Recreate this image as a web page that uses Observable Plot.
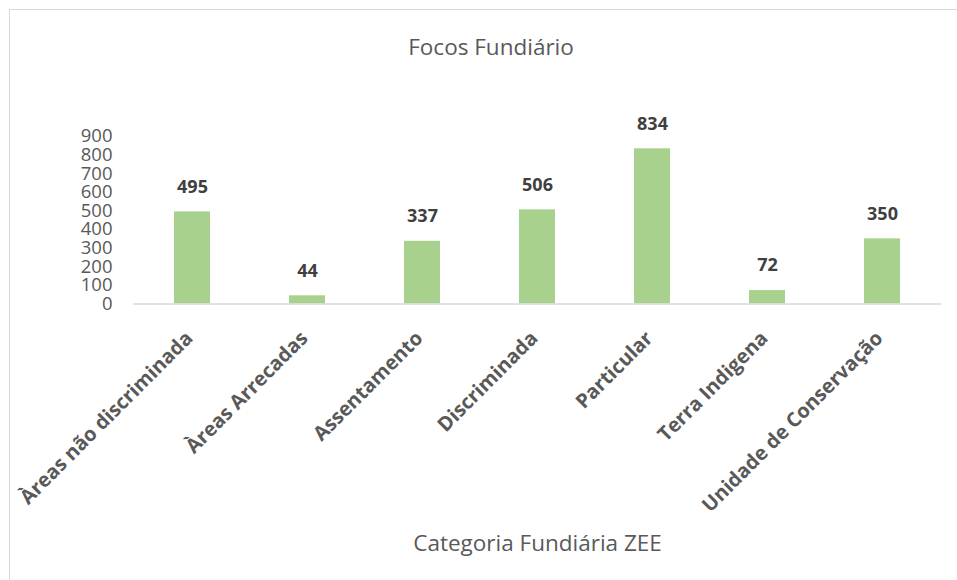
<!DOCTYPE html>
<html>
<head>
<meta charset="utf-8">
<script src="https://cdn.jsdelivr.net/npm/d3@7"></script>
<script src="https://cdn.jsdelivr.net/npm/@observablehq/plot@0.6"></script>
<style>
  html, body { margin: 0; padding: 0; background: #fff; }
  #wrap { position: relative; width: 957px; height: 580px; overflow: hidden; font-family: "Open Sans", sans-serif; }
  #border { position: absolute; left: 9px; top: 9px; width: 980px; height: 620px; border: 1.5px solid #d9d9d9; box-sizing: border-box; }
  #chart { position: absolute; left: 0; top: 0; }
</style>
</head>
<body>
<div id="wrap"><div id="border"></div><div id="chart"></div></div>
<script>
const categories = ["Àreas não discriminada", "Àreas Arrecadas", "Assentamento", "Discriminada", "Particular", "Terra Indigena", "Unidade de Conservação"];
const values = [495, 44, 337, 506, 834, 72, 350];
const yTicks = [0, 100, 200, 300, 400, 500, 600, 700, 800, 900];
const title = "Focos Fundiário";
const xTitle = "Categoria Fundiária ZEE";

const data = categories.map((c, i) => ({cat: c, value: values[i]}));

const chart = Plot.plot({
  width: 957,
  height: 580,
  marginLeft: 133,
  marginRight: 16,
  marginTop: 136,
  marginBottom: 276.5,
  style: {fontFamily: "Open Sans, sans-serif", background: "transparent", overflow: "visible"},
  x: {domain: categories, paddingInner: 0.69, paddingOuter: 0.345, axis: null},
  y: {domain: [0, 900], axis: null},
  marks: [
    Plot.barY(data, {x: "cat", y: "value", fill: "#a9d18e"}),
    Plot.ruleY([0], {stroke: "#d9d9d9", strokeWidth: 1.5}),
    Plot.axisY({ticks: yTicks, label: null, tickSize: 0, tickPadding: 21, fontSize: 18.5, fill: "#595959", tickFormat: d => String(d)}),
    Plot.text(data, {x: "cat", y: "value", text: d => String(d.value), dy: -25, fontSize: 18, fontWeight: "bold", fill: "#404040", lineAnchor: "middle"}),
    Plot.text(data, {x: "cat", y: 0, text: "cat", rotate: -45, textAnchor: "end", lineAnchor: "middle", dx: -3, dy: 31, fontSize: 20, fontWeight: "bold", fill: "#595959"}),
    Plot.text([title], {frameAnchor: "top", text: d => d, dx: -46.5, dy: -89, fontSize: 22.5, fill: "#595959", lineAnchor: "middle"}),
    Plot.text([xTitle], {frameAnchor: "bottom", text: d => d, dy: 239.5, fontSize: 22.5, fill: "#595959", lineAnchor: "middle"})
  ]
});
document.getElementById("chart").appendChild(chart);
</script>
</body>
</html>
